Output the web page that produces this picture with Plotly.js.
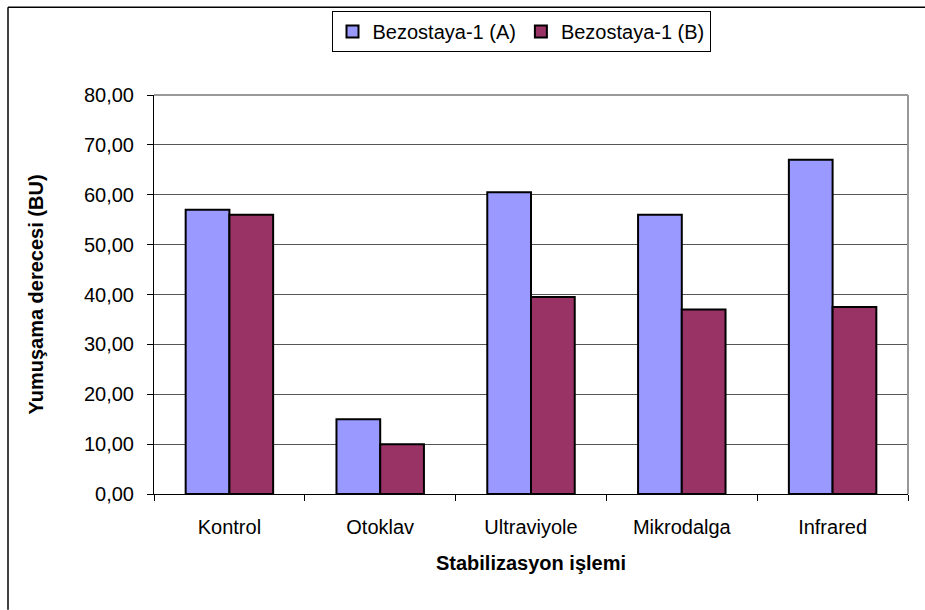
<!DOCTYPE html>
<html>
<head>
<meta charset="utf-8">
<script src="https://cdn.plot.ly/plotly-3.0.1.min.js"></script>
<style>
html,body{margin:0;padding:0;background:#fff;}
#chart{width:925px;height:610px;}
</style>
</head>
<body>
<div id="chart"></div>
<script>
var categories = ["Kontrol", "Otoklav", "Ultraviyole", "Mikrodalga", "Infrared"];
var seriesA = [57, 15, 60.5, 56, 67];
var seriesB = [56, 10, 39.5, 37, 37.5];
var seriesNames = ["Bezostaya-1 (A)", "Bezostaya-1 (B)"];
var yTicks = [0, 10, 20, 30, 40, 50, 60, 70, 80];

var FONT = "Liberation Sans, Arial, sans-serif";

var traces = [
  {type: "bar", x: categories, y: seriesA, name: seriesNames[0],
   marker: {color: "#9999FF", line: {color: "#000000", width: 2}}},
  {type: "bar", x: categories, y: seriesB, name: seriesNames[1],
   marker: {color: "#993366", line: {color: "#000000", width: 2}}}
];

var W = 925, H = 610, L = 154, R = 17, T = 94, B = 116;
function px(x){ return (x - L) / (W - L - R); }
function py(y){ return (H - B - y) / (H - T - B); }

var layout = {
  width: W, height: H,
  margin: {l: L, r: R, t: T, b: B, pad: 0},
  paper_bgcolor: "#ffffff", plot_bgcolor: "#ffffff",
  separators: ",.",
  font: {family: FONT, size: 20, color: "#000"},
  barmode: "group", bargap: 0.42, bargroupgap: 0,
  showlegend: true,
  legend: {orientation: "h", x: px(521), xanchor: "center", y: py(11), yanchor: "top",
           bordercolor: "#000", borderwidth: 1, font: {family: FONT, size: 20},
           itemwidth: 30, tracegroupgap: 0},
  xaxis: {type: "category", showline: true, linecolor: "#000", linewidth: 1,
          ticks: "outside", tickson: "boundaries", ticklen: 6, tickcolor: "#000",
          ticklabelstandoff: 15,
          tickfont: {family: FONT, size: 20},
          title: {text: "<b>Stabilizasyon işlemi</b>", font: {family: FONT, size: 20}, standoff: 18},
          showgrid: false, zeroline: false},
  yaxis: {range: [0, 80], tickvals: yTicks, tickformat: ".2f",
          showline: true, linecolor: "#000", linewidth: 1,
          ticks: "outside", ticklen: 6, tickcolor: "#000",
          ticklabelstandoff: 9,
          tickfont: {family: FONT, size: 20},
          showgrid: true, gridcolor: "#555", gridwidth: 1, zeroline: false,
          title: {text: "<b>Yumuşama derecesi (BU)</b>", font: {family: FONT, size: 20}, standoff: 34}},
  shapes: [
    {type: "line", xref: "paper", yref: "paper", x0: 0, x1: 1, y0: 1, y1: 1, line: {color: "#999", width: 2}},
    {type: "line", xref: "paper", yref: "paper", x0: 1, x1: 1, y0: 0, y1: 1, line: {color: "#999", width: 2}},
    {type: "line", xref: "paper", yref: "paper", x0: px(8), x1: px(8), y0: py(6), y1: py(610), line: {color: "#000", width: 1.5}},
    {type: "line", xref: "paper", yref: "paper", x0: px(8), x1: px(925), y0: py(6), y1: py(6), line: {color: "#000", width: 1.5}}
  ]
};

Plotly.newPlot("chart", traces, layout, {displayModeBar: false, staticPlot: true});
</script>
</body>
</html>
